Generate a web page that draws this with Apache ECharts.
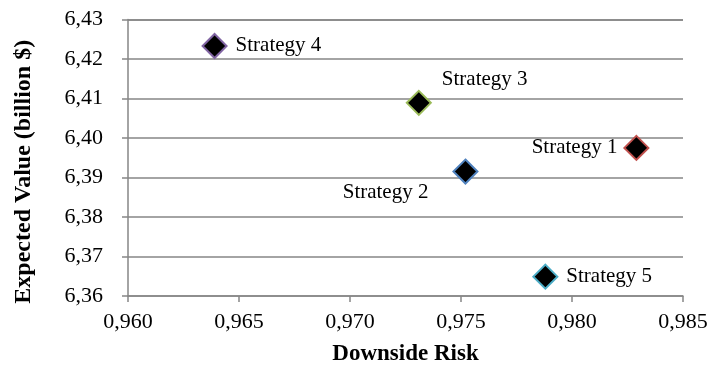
<!DOCTYPE html>
<html>
<head>
<meta charset="utf-8">
<script src="https://cdn.jsdelivr.net/npm/echarts@6/dist/echarts.min.js"></script>
<style>
  html, body { margin: 0; padding: 0; background: #ffffff; }
  #chart { width: 711px; height: 383px; }
</style>
</head>
<body>
<div id="chart"></div>
<script>
// Strategy comparison: downside risk vs. expected value
const strategyNames = ['Strategy 1', 'Strategy 2', 'Strategy 3', 'Strategy 4', 'Strategy 5'];
const downsideRisk = [0.9829, 0.9752, 0.9731, 0.9639, 0.9788];
const expectedValue = [6.3975, 6.3915, 6.4089, 6.4233, 6.3649];

const xTickLabels = ['0,960', '0,965', '0,970', '0,975', '0,980', '0,985'];
const yTickLabels = ['6,36', '6,37', '6,38', '6,39', '6,40', '6,41', '6,42', '6,43'];

// Marker outline colours, one per strategy
const outlineColors = ['#c0504d', '#4f81bd', '#9bbb59', '#8064a2', '#4bacc6'];

// Where each strategy's caption sits around its marker
const labelPlacement = {
  'Strategy 1': { position: 'left', distance: 6, offset: [0, 0] },
  'Strategy 2': { position: 'left', distance: 8, offset: [-16, 21] },
  'Strategy 3': { position: 'right', distance: 8, offset: [2, -23] },
  'Strategy 4': { position: 'right', distance: 8, offset: [0, 0] },
  'Strategy 5': { position: 'right', distance: 8, offset: [0, 0] }
};

const FONT = '"Liberation Serif", "Times New Roman", serif';
const GRID_GRAY = '#868686';

const points = strategyNames.map((name, i) => ({
  name: name,
  value: [downsideRisk[i], expectedValue[i]],
  itemStyle: { color: '#000000', borderColor: outlineColors[i], borderWidth: 2, opacity: 1 },
  label: Object.assign({ show: true }, labelPlacement[name])
}));

const xMin = 0.960, xStep = 0.005;
const yMin = 6.36, yStep = 0.01;

const chart = echarts.init(document.getElementById('chart'), null, { renderer: 'canvas' });
chart.setOption({
  animation: false,
  backgroundColor: '#ffffff',
  grid: { left: 128, right: 28, top: 19.5, bottom: 87, containLabel: false },
  xAxis: {
    type: 'value',
    min: xMin,
    max: xMin + xStep * (xTickLabels.length - 1),
    interval: xStep,
    name: 'Downside Risk',
    nameLocation: 'middle',
    nameGap: 47,
    nameTextStyle: { fontFamily: FONT, fontWeight: 'bold', fontSize: 23, color: '#000' },
    axisLine: { show: true, lineStyle: { color: GRID_GRAY, width: 1.5 } },
    axisTick: { show: true, inside: false, length: 6, lineStyle: { color: GRID_GRAY, width: 1.5 } },
    axisLabel: {
      margin: 15,
      fontFamily: FONT, fontSize: 22, color: '#000',
      formatter: (v) => xTickLabels[Math.round((v - xMin) / xStep)]
    },
    splitLine: { show: false }
  },
  yAxis: {
    type: 'value',
    min: yMin,
    max: yMin + yStep * (yTickLabels.length - 1),
    interval: yStep,
    name: 'Expected Value (billion $)',
    nameLocation: 'middle',
    nameGap: 92,
    nameTextStyle: {
      fontFamily: FONT, fontWeight: 'bold', fontSize: 24, color: '#000',
      padding: [0, 28, 0, 0]
    },
    axisLine: { show: true, lineStyle: { color: GRID_GRAY, width: 1.5 } },
    axisTick: { show: true, inside: false, length: 6, lineStyle: { color: GRID_GRAY, width: 1.5 } },
    axisLabel: {
      margin: 25,
      fontFamily: FONT, fontSize: 22, color: '#000',
      formatter: (v) => yTickLabels[Math.round((v - yMin) / yStep)]
    },
    splitLine: { show: true, lineStyle: { color: GRID_GRAY, width: 1.5 } }
  },
  series: [{
    type: 'scatter',
    symbol: 'diamond',
    symbolSize: 24,
    data: points,
    label: {
      formatter: (p) => p.name,
      fontFamily: FONT, fontSize: 21, color: '#000'
    }
  }]
});
</script>
</body>
</html>
